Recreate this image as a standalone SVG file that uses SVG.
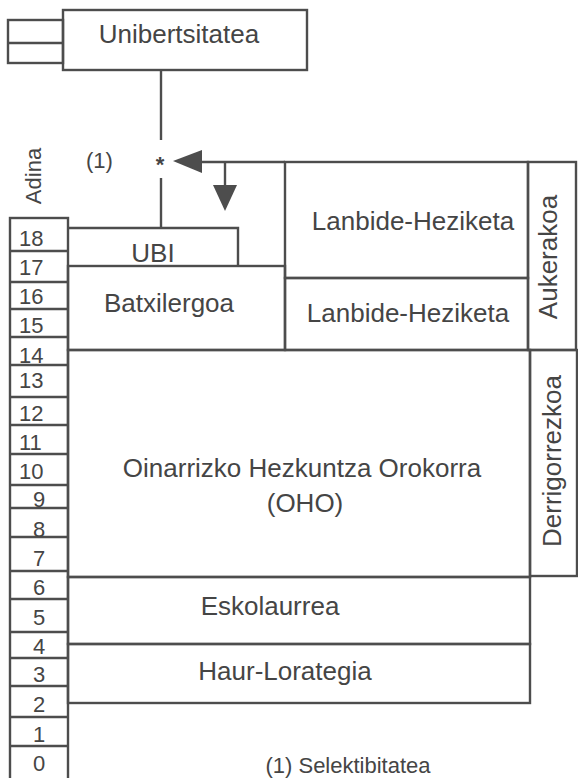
<svg xmlns="http://www.w3.org/2000/svg" width="578" height="778" viewBox="0 0 578 778">
<style>
.b{fill:none;stroke:#4d4d4d;stroke-width:2.4}
.l{fill:none;stroke:#4d4d4d;stroke-width:2.4}
.t{font-family:"Liberation Sans",Arial,sans-serif;font-size:26px;fill:#454545}
.n{font-family:"Liberation Sans",Arial,sans-serif;font-size:22px;fill:#454545}
.m{text-anchor:middle}
.h{fill:#4d4d4d;stroke:none}
</style>
<rect width="578" height="778" fill="#fff"/>
<g id="unibertsitatea">
<rect class="b" x="63" y="10" width="244" height="60"/>
<rect class="b" x="8" y="20" width="55" height="43"/>
<line class="b" x1="8" y1="43" x2="63" y2="43"/>
<text class="t m" x="179" y="43">Unibertsitatea</text>
</g>
<g id="selektibitatea">
<text class="n" x="86" y="168" font-size="21">(1)</text>
<text class="n m" x="160" y="172" font-size="24" font-weight="bold">*</text>
</g>
<g id="adina">
<text class="n m" transform="translate(41,176) rotate(-90)" font-size="24">Adina</text>
</g>
<g id="connectors">
<line class="l" x1="161" y1="70" x2="161" y2="140"/>
<line class="l" x1="161" y1="178" x2="161" y2="228"/>
<line class="l" x1="200" y1="162" x2="285" y2="162"/>
<polygon class="h" points="173,161 202,150 202,173"/>
<line class="l" x1="225" y1="162" x2="225" y2="188"/>
<polygon class="h" points="213,185 237,185 225,211"/>
</g>
<g id="age-scale">
<rect class="b" x="10" y="218" width="58" height="562"/>
<path class="l" d="M10 251H68M10 282H68M10 309H68M10 337H68M10 365H68M10 397H68M10 425H68M10 454H68M10 485H68M10 508H68M10 537H68M10 571H68M10 599H68M10 632H68M10 658H68M10 686H68M10 717H68M10 746H68"/>
<text class="n" x="19" y="246">18</text>
<text class="n" x="19" y="275">17</text>
<text class="n" x="19" y="304">16</text>
<text class="n" x="19" y="333">15</text>
<text class="n" x="19" y="363">14</text>
<text class="n" x="19" y="388">13</text>
<text class="n" x="19" y="421">12</text>
<text class="n" x="19" y="450">11</text>
<text class="n" x="19" y="479">10</text>
<text class="n m" x="39" y="507">9</text>
<text class="n m" x="39" y="537">8</text>
<text class="n m" x="39" y="566">7</text>
<text class="n m" x="39" y="595">6</text>
<text class="n m" x="39" y="625">5</text>
<text class="n m" x="39" y="654">4</text>
<text class="n m" x="39" y="682">3</text>
<text class="n m" x="39" y="712">2</text>
<text class="n m" x="39" y="742">1</text>
<text class="n m" x="39" y="771">0</text>
</g>
<g id="ubi">
<polyline class="b" points="68,228 238,228 238,266"/>
<text class="t m" x="153" y="262" font-size="24">UBI</text>
</g>
<g id="batxilergoa">
<rect class="b" x="68" y="266" width="217" height="84"/>
<text class="t m" x="169" y="312">Batxilergoa</text>
</g>
<g id="lanbide-heziketa-1">
<rect class="b" x="285" y="162" width="243" height="116"/>
<text class="t m" x="413" y="230">Lanbide-Heziketa</text>
</g>
<g id="lanbide-heziketa-2">
<rect class="b" x="285" y="278" width="243" height="72"/>
<text class="t m" x="408" y="322">Lanbide-Heziketa</text>
</g>
<g id="aukerakoa">
<rect class="b" x="528" y="162" width="48" height="188"/>
<text class="t m" transform="translate(557,257) rotate(-90)">Aukerakoa</text>
</g>
<g id="oho">
<rect class="b" x="68" y="350" width="462" height="227"/>
<text class="t m" x="302" y="477">Oinarrizko Hezkuntza Orokorra</text>
<text class="t m" x="305" y="512">(OHO)</text>
</g>
<g id="derrigorrezkoa">
<rect class="b" x="530" y="350" width="47" height="226"/>
<text class="t m" transform="translate(561,461) rotate(-90)">Derrigorrezkoa</text>
</g>
<g id="eskolaurrea">
<rect class="b" x="68" y="577" width="462" height="67"/>
<text class="t m" x="270" y="615">Eskolaurrea</text>
</g>
<g id="haur-lorategia">
<rect class="b" x="68" y="644" width="462" height="59"/>
<text class="t m" x="285" y="680">Haur-Lorategia</text>
</g>
<g id="note">
<text class="n m" x="348" y="773">(1) Selektibitatea</text>
</g>
</svg>
